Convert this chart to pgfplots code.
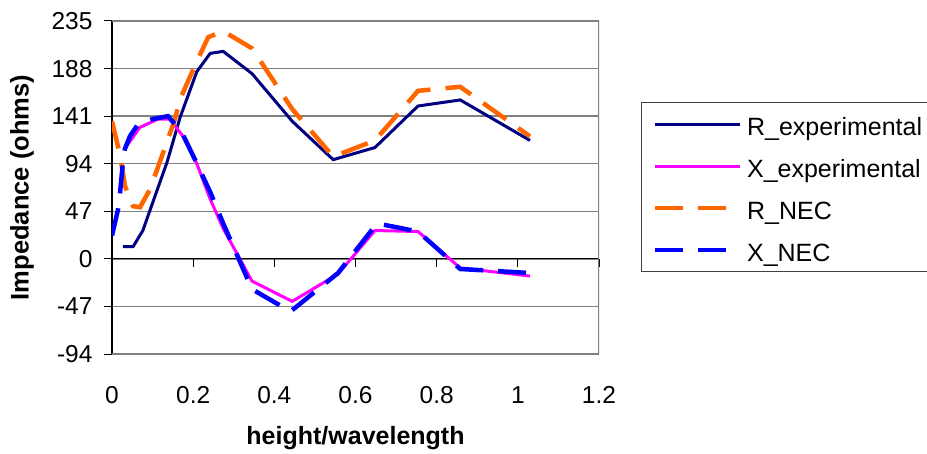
\documentclass[border=0pt]{standalone}
\usepackage{fontspec}
\setmainfont{Liberation Sans}
\usepackage{pgfplots}
\pgfplotsset{compat=1.18}
\definecolor{rexp}{HTML}{000080}
\definecolor{xexp}{HTML}{FF00FF}
\definecolor{rnec}{HTML}{FF6600}
\definecolor{xnec}{HTML}{0000FF}
\pgfplotstableread{
x y
0.027 12
0.052 12
0.076 28
0.106 62
0.136 96
0.168 140
0.209 185
0.242 203
0.274 205
0.345 183
0.444 136
0.545 98
0.648 110
0.754 151
0.858 157
1.030 117
}\rexpdata
\pgfplotstableread{
x y
0.032 109
0.069 130
0.113 138
0.143 138
0.175 121
0.209 94
0.242 59
0.274 30
0.345 -22
0.444 -42
0.557 -15
0.648 28
0.754 27
0.858 -9
1.030 -17
}\xexpdata
\pgfplotstableread{
x y
0.000 136
0.020 102
0.032 72
0.052 52
0.069 51
0.094 69
0.118 96
0.136 116
0.155 138
0.168 158
0.209 195
0.237 219
0.274 225
0.345 208
0.444 148
0.545 101
0.648 117
0.754 166
0.858 170
1.030 121
}\rnecdata
\pgfplotstableread{
x y
0.000 23
0.015 49
0.020 66
0.027 96
0.032 109
0.044 121
0.064 133
0.099 138
0.138 141
0.172 125
0.207 96
0.242 66
0.274 35
0.345 -30
0.440 -52
0.557 -14
0.653 35
0.754 27
0.858 -10
1.030 -14
}\xnecdata
\begin{document}
\begin{tikzpicture}
\useasboundingbox (-112bp,-100bp) rectangle (815bp,354bp);
\begin{axis}[
  at={(0,0)}, anchor=south west,
  scale only axis, width=487bp, height=333bp,
  xmin=0, xmax=1.2, ymin=-94, ymax=235,
  axis x line*=middle, axis y line*=left,
  hide obscured x ticks=false, hide obscured y ticks=false,
  xtick={0,0.2,0.4,0.6,0.8,1,1.2},
  xticklabels={0,0.2,0.4,0.6,0.8,1,1.2},
  ytick={-94,-47,0,47,94,141,188,235},
  yticklabels={-94,-47,0,47,94,141,188,235},
  tick align=outside, major tick length=8bp,
  tick style={black, line width=1bp},
  axis line style={black, line width=1.2bp},
  ymajorgrids, grid style={black!50, line width=1.3bp},
  ticklabel style={font=\fontsize{24.5bp}{28bp}\selectfont},
  xticklabel style={yshift=-116bp},
  yticklabel style={xshift=-8bp},
  every axis x label/.style={at={(axis description cs:0.5,0)}, anchor=center, yshift=-84.5bp, font=\bfseries\fontsize{25bp}{30bp}\selectfont},
  every axis y label/.style={at={(axis description cs:0,0.5)}, xshift=-90bp, rotate=90, anchor=center, font=\bfseries\fontsize{25.5bp}{30bp}\selectfont},
  xlabel={height/wavelength}, ylabel={Impedance (ohms)},
  legend style={at={(axis description cs:1.0862,0.7568)}, anchor=north west,
    draw=black!75, line width=1.2bp, font=\fontsize{25bp}{30bp}\selectfont,
    inner xsep=6bp, inner ysep=7bp, row sep=13bp, column sep=0bp,
    nodes={inner sep=0bp, text height=26bp, text depth=3bp}},
  legend cell align=left,
  legend image code/.code={\path (-5bp,0bp) (90bp,0bp); \draw[#1] (0bp,0bp) -- (85bp,0bp);},
  no markers,
]
\draw[black!50, line width=1.3bp] (rel axis cs:0,0) -- (rel axis cs:1,0) -- (rel axis cs:1,1) -- (rel axis cs:0,1);
\addplot[rexp, line width=3bp] table {\rexpdata};
\addlegendentry{R\_experimental}
\addplot[xexp, line width=3bp] table {\xexpdata};
\addlegendentry{X\_experimental}
\addplot[rnec, line width=4.5bp, dash pattern=on 28bp off 15bp] table {\rnecdata};
\addlegendentry{R\_NEC}
\addplot[xnec, line width=4.5bp, dash pattern=on 28bp off 15bp] table {\xnecdata};
\addlegendentry{X\_NEC}
\end{axis}
\end{tikzpicture}
\end{document}
